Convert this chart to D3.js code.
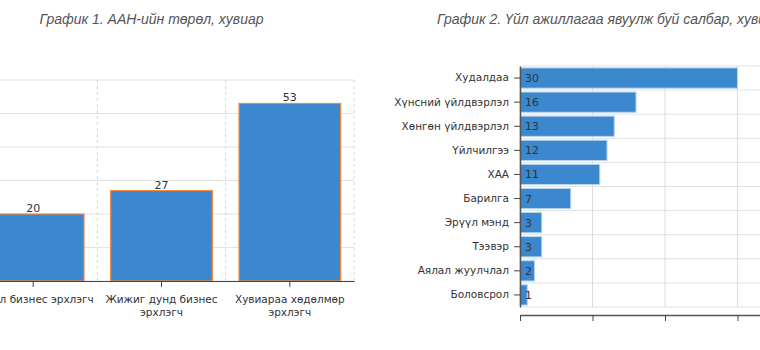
<!DOCTYPE html>
<html><head><meta charset="utf-8">
<script src="https://cdn.jsdelivr.net/npm/d3@7"></script>
<style>
body{margin:0;background:#fff;}
svg{display:block;}
text{font-family:"DejaVu Sans",Verdana,sans-serif;}
.title{font-family:"Liberation Sans",Arial,sans-serif;font-style:italic;font-size:14px;fill:#555;}
</style></head>
<body>
<svg id="c" width="760" height="350"></svg>
<script>
// ---- Chart 1 data ----
const title1 = "График 1. ААН-ийн төрөл, хувиар";
const cats1 = ["Бичил бизнес эрхлэгч", "Жижиг дунд бизнес эрхлэгч", "Хувиараа хөдөлмөр эрхлэгч"];
const tickLabels1 = [["Бичил бизнес эрхлэгч"], ["Жижиг дунд бизнес", "эрхлэгч"], ["Хувиараа хөдөлмөр", "эрхлэгч"]];
const vals1 = [20, 27, 53];
const yTicks1 = [0, 10, 20, 30, 40, 50, 60];

// ---- Chart 2 data ----
const title2 = "График 2. Үйл ажиллагаа явуулж буй салбар, хувиар";
const cats2 = ["Худалдаа", "Хүнсний үйлдвэрлэл", "Хөнгөн үйлдвэрлэл", "Үйлчилгээ", "ХАА", "Барилга", "Эрүүл мэнд", "Тээвэр", "Аялал жуулчлал", "Боловсрол"];
const vals2 = [30, 16, 13, 12, 11, 7, 3, 3, 2, 1];
const xTicks2 = [0, 10, 20, 30, 40];

const svg = d3.select("#c");
const BLUE = "#3c88ce";

// ================= Chart 1 =================
const g1 = svg.append("g");
const x1 = d3.scaleBand().domain(cats1).range([-31, 354]).paddingInner(0.2).paddingOuter(0.1);
const y1 = d3.scaleLinear().domain([0, 60]).range([281, 80]);

g1.append("text").attr("class", "title").attr("x", 151.5).attr("y", 24)
  .attr("text-anchor", "middle").text(title1);

// horizontal grid
g1.selectAll(".hg").data(yTicks1).enter().append("line")
  .attr("x1", -31).attr("x2", 354)
  .attr("y1", d => y1(d)).attr("y2", d => y1(d))
  .attr("stroke", "#e2e2e2").attr("stroke-width", 1);
// vertical dashed grid at band boundaries
const bounds1 = cats1.map((c, i) => i).concat([cats1.length]);
g1.selectAll(".vg").data(bounds1).enter().append("line")
  .attr("x1", i => -31 + x1.step() * i).attr("x2", i => -31 + x1.step() * i)
  .attr("y1", y1(60)).attr("y2", y1(0))
  .attr("stroke", "#d6d6d6").attr("stroke-dasharray", "3,3");

// bars
g1.selectAll(".bar").data(vals1).enter().append("rect")
  .attr("x", (d, i) => x1(cats1[i]) + 0.5)
  .attr("y", d => y1(d))
  .attr("width", x1.bandwidth() - 1)
  .attr("height", d => y1(0) - y1(d))
  .attr("fill", BLUE).attr("stroke", "#f0883e").attr("stroke-width", 1.2);

// value labels
g1.selectAll(".vl").data(vals1).enter().append("text")
  .attr("x", (d, i) => x1(cats1[i]) + x1.bandwidth() / 2)
  .attr("y", d => y1(d) - 2)
  .attr("text-anchor", "middle").attr("font-size", "11px").attr("fill", "#333")
  .text(d => d);

// x axis
const ax1 = g1.append("g").attr("transform", "translate(0,281)")
  .call(d3.axisBottom(x1).tickSize(6).tickSizeOuter(0).tickFormat(""));
ax1.select(".domain").attr("stroke", "#444");
ax1.selectAll(".tick line").attr("stroke", "#444");
ax1.selectAll(".tick").each(function(d, i) {
  const t = d3.select(this).append("text").attr("fill", "#333").attr("font-size", "10.5px")
    .attr("text-anchor", "middle").attr("y", 22);
  tickLabels1[i].forEach((ln, j) => t.append("tspan").attr("x", 0).attr("dy", j ? "1.2em" : 0).text(ln));
});

// ================= Chart 2 =================
const g2 = svg.append("g");
const x2 = d3.scaleLinear().domain([0, 40]).range([520, 810]);
const y2 = d3.scaleBand().domain(cats2).range([66, 307]).paddingInner(0.16).paddingOuter(0.08);

g2.append("text").attr("class", "title").attr("x", 437).attr("y", 24)
  .attr("text-anchor", "start").text(title2);

// horizontal grid at band boundaries
const bounds2 = d3.range(cats2.length + 1);
g2.selectAll(".hg").data(bounds2).enter().append("line")
  .attr("x1", 520).attr("x2", 810)
  .attr("y1", i => 66 + y2.step() * i).attr("y2", i => 66 + y2.step() * i)
  .attr("stroke", "#e2e2e2");
// vertical grid
g2.selectAll(".vg").data(xTicks2.slice(1)).enter().append("line")
  .attr("x1", d => x2(d)).attr("x2", d => x2(d))
  .attr("y1", 66).attr("y2", 307)
  .attr("stroke", "#dcdcdc");

// bars
g2.selectAll(".bar").data(vals2).enter().append("rect")
  .attr("x", x2(0))
  .attr("y", (d, i) => y2(cats2[i]))
  .attr("width", d => x2(d) - x2(0))
  .attr("height", y2.bandwidth())
  .attr("fill", BLUE).attr("stroke", "#b7d3ee").attr("stroke-width", 1);

// value labels
g2.selectAll(".vl").data(vals2).enter().append("text")
  .attr("x", x2(0) + 5)
  .attr("y", (d, i) => y2(cats2[i]) + y2.bandwidth() / 2)
  .attr("dy", "0.36em").attr("font-size", "11px").attr("fill", "#333")
  .text(d => d);

// y axis
const ay2 = g2.append("g").attr("transform", "translate(520,0)")
  .call(d3.axisLeft(y2).tickSize(6).tickSizeOuter(0).tickPadding(5));
ay2.select(".domain").attr("stroke", "#555").attr("stroke-width", 1.5);
ay2.selectAll(".tick line").attr("stroke", "#444");
ay2.selectAll(".tick text").attr("font-size", "10.5px").attr("fill", "#333")
  .attr("font-family", "'DejaVu Sans',Verdana,sans-serif");

// x axis (offset below plot)
const ax2 = g2.append("g").attr("transform", "translate(0,315)")
  .call(d3.axisBottom(x2).tickValues(xTicks2).tickSize(6).tickSizeOuter(0).tickFormat(""));
ax2.select(".domain").attr("stroke", "#555").attr("stroke-width", 1.5);
ax2.selectAll(".tick line").attr("stroke", "#444");
</script>
</body></html>
